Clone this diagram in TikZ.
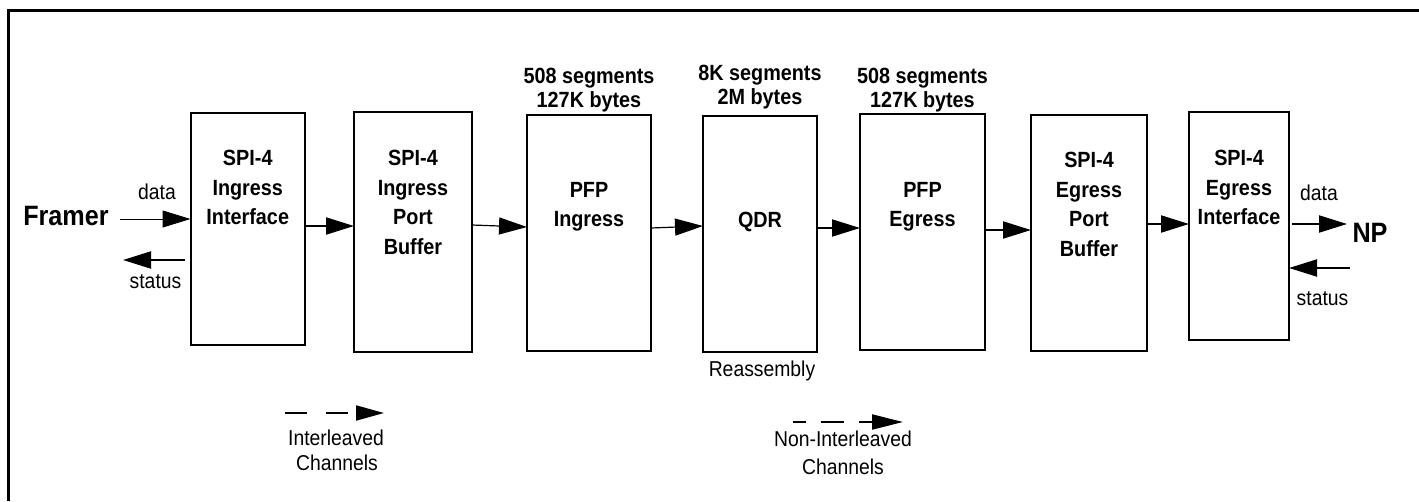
\documentclass[tikz,border=0pt]{standalone}
\usepackage{fontspec}
\setmainfont{Liberation Sans}[FakeStretch=0.9]
\usetikzlibrary{arrows.meta}
\begin{document}
\begin{tikzpicture}[x=1pt,y=-1pt,
  box/.style={draw, line width=2pt, inner sep=0pt, outer sep=0pt, anchor=north west},
  lbl/.style={font=\fontsize{22}{29.5}\selectfont\bfseries, align=center, anchor=north, inner sep=0pt},
  toplbl/.style={font=\fontsize{22}{24}\selectfont\bfseries, align=center, anchor=north, inner sep=0pt},
  txt/.style={font=\fontsize{21.5}{26}\selectfont, inner sep=0pt, text height=15.5pt, text depth=0pt},
  big/.style={font=\fontsize{28}{30}\selectfont\bfseries, inner sep=0pt, text height=20pt, text depth=0pt},
  conn/.style={line width=2pt, -{Triangle[length=28pt,width=17pt]}},
  thinconn/.style={line width=1.2pt, -{Triangle[length=28pt,width=17pt]}},
  legend/.style={line width=2pt}
]
\useasboundingbox (0,0) rectangle (1419,501);
% frame
\draw[line width=3pt, line join=miter] (8,501) -- (8,10) -- (1419,10);

% boxes
\node[box, minimum width=114.5pt, minimum height=232pt] (b1) at (190.5,113) {};
\node[box, minimum width=118pt, minimum height=240pt] (b2) at (354,112) {};
\node[box, minimum width=124pt, minimum height=236pt] (b3) at (527,115) {};
\node[box, minimum width=114pt, minimum height=236pt] (b4) at (703,116) {};
\node[box, minimum width=125pt, minimum height=236pt] (b5) at (860,114) {};
\node[box, minimum width=116pt, minimum height=236pt] (b6) at (1031,115) {};
\node[box, minimum width=100pt, minimum height=228pt] (b7) at (1189,112) {};

% box labels
\node[lbl] (t1) at (247.75,150) {SPI-4\\Ingress\\Interface};
\node[lbl] (t2) at (413,150) {SPI-4\\Ingress\\Port\\Buffer};
\node[lbl] (t3) at (589,182) {PFP\\Ingress};
\node[lbl] (t4) at (760,212) {QDR};
\node[lbl] (t5) at (922.5,182) {PFP\\Egress};
\node[lbl] (t6) at (1089,152) {SPI-4\\Egress\\Port\\Buffer};
\node[lbl] (t7) at (1239,150) {SPI-4\\Egress\\Interface};

% capacity labels
\node[toplbl] (s3) at (589,68) {508 segments\\127K bytes};
\node[toplbl] (s4) at (760,65) {8K segments\\2M bytes};
\node[toplbl] (s5) at (922.5,68) {508 segments\\127K bytes};

% side texts
\node[big] (fr) at (66,215) {Framer};
\node[big] (np) at (1370,232) {NP};
\node[txt] (dl) at (157,192) {data};
\node[txt] (sl) at (155.5,281) {status};
\node[txt] (dr) at (1319,193) {data};
\node[txt] (sr) at (1322.5,298) {status};
\node[txt] (re) at (762,369) {Reassembly};

% connectors between boxes
\draw[conn] (b1.east |- 0,226) -- (b2.west |- 0,226);
\draw[thinconn] (b2.east |- 0,225) -- (b3.west |- 0,227);
\draw[thinconn] (b3.east |- 0,228) -- (b4.west |- 0,226);
\draw[conn] (b4.east |- 0,228) -- (b5.west |- 0,228);
\draw[conn] (b5.east |- 0,230) -- (b6.west |- 0,230);
\draw[conn] (b6.east |- 0,224) -- (b7.west |- 0,224);

% outer connections
\coordinate (fin) at (120,219);
\coordinate (fout) at (123,260);
\coordinate (npin) at (1347,224);
\coordinate (npout) at (1350,268);
\draw[line width=1pt, -{Triangle[length=28pt,width=17pt]}] (fin) -- (b1.west |- fin);
\draw[conn, shorten <=5.5pt] (b1.west |- fout) -- (fout);
\draw[conn, shorten <=3pt] (b7.east |- npin) -- (npin);
\draw[conn] (npout) -- (b7.east |- npout);

% legend
\coordinate (la) at (285,413);
\coordinate (lb) at (384,413);
\draw[legend, dash pattern=on 22pt off 19pt, -{Triangle[length=28pt,width=15pt]}] (la) -- (lb);
\node[txt] (l1a) at (336,438) {Interleaved};
\node[txt] (l1b) at (337,463) {Channels};
\coordinate (ra) at (793,422);
\coordinate (rb) at (903,422);
\draw[legend, dash pattern=on 23pt off 15pt, dash phase=10pt, -{Triangle[length=31pt,width=15pt]}] (ra) -- (rb);
\node[txt] (l2a) at (843,439) {Non-Interleaved};
\node[txt] (l2b) at (843,467) {Channels};
\end{tikzpicture}
\end{document}
